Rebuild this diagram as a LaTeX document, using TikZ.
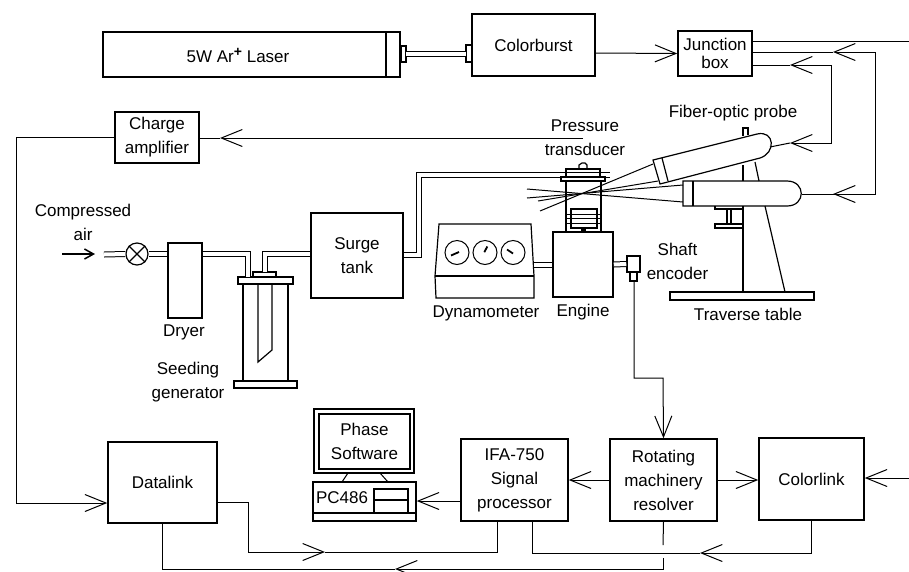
\documentclass[tikz,border=0pt]{standalone}
\usepackage{fontspec}
\setmainfont{Liberation Sans}
\usetikzlibrary{arrows.meta}
\tikzset{
  txt/.style={font=\fontsize{17}{24}\selectfont, align=center, inner sep=0pt},
  box/.style={txt, draw, line width=1.5pt, minimum width=#1},
  part/.style={draw, line width=1.2pt},
  wire/.style={line width=1pt},
  flow/.style={wire, -{Straight Barb[length=21pt,width=17pt,line width=1pt]}},
  inflow/.style={line width=1.5pt, -{Straight Barb[length=9pt,width=10pt,line width=1.5pt]}},
  pipe/.style={line width=1pt, double, double distance=4pt}
}
\begin{document}
\begin{tikzpicture}[x=1pt,y=-1pt]
\useasboundingbox (0,0) rectangle (909,571);

% top row
\node [box=297pt, minimum height=45pt] (laser) at (251.5,54.5) {};
\node [txt] at (238,55) {5W Ar\raisebox{6pt}{\fontsize{14}{14}\selectfont\textbf{+}} Laser};
\draw [part] (386,32) -- (386,77);
\node [box=123pt, minimum height=62pt] (colorburst) at (533.5,45) {Colorburst};
\node [box=74pt, minimum height=45pt] (jbox) at (715,53.5) {Junction\\[-6pt]box};
\draw [part] (401,46) rectangle (406,62);
\draw [part] (466,45) rectangle (472,62);
\draw [pipe] (406,54) -- (466,54);

% left side
\node [box=84pt, minimum height=51pt] (charge) at (157,137.5) {Charge\\amplifier};
\node [box=109pt, minimum height=81pt] (datalink) at (162.5,482.5) {Datalink};
\node [txt] at (83,222) {Compressed\\air};
\coordinate (airL) at (62,254);
\coordinate (airR) at (95,254);
\draw [inflow] (airL) -- (airR);
\node [draw, circle, line width=1.2pt, minimum size=22pt, inner sep=0pt] (valve) at (137,254) {};
\draw [part] (valve.north west) -- (valve.south east);
\draw [part] (valve.north east) -- (valve.south west);
\node [draw, line width=1.2pt, minimum width=34pt, minimum height=75pt] (dryer) at (185,280.5) {};
\node [txt] at (184,332) {Dryer};
\draw [pipe] (104,254.5) -- (valve.west);
\draw [pipe] (valve.east) -- (dryer.west |- valve.east);

% seeding generator
\draw [part] (238,277) rectangle (293,284);
\draw [part] (253,272) rectangle (276,277);
\draw [part] (243,284) -- (243,381);
\draw [part] (288,284) -- (288,381);
\draw [part] (234,381) rectangle (297,388);
\draw [part] (258,284) -- (258,362) -- (272,350) -- (272,284);
\node [txt] at (188,382) {Seeding\\generator};
\node [box=92pt, minimum height=85pt] (surge) at (357,255.5) {Surge\\tank};
\draw [pipe] (dryer.east |- 0,253.5) -| (247.5,277);
\draw [pipe] (264.5,272) |- (surge.west |- 0,253.5);
\draw [pipe] (surge.east |- 0,254.5) -| (419,175) -- (610,175);

% dynamometer
\draw [part] (439,224) -- (531,224) -- (534,276) -- (534,298) -- (436,298) -- (435,276) -- cycle;
\draw [part] (435,276) -- (534,276);
\foreach \px/\ax/\ay/\bx/\by in {457/-6/3/2/-0.5, 485/-0.7/-0.3/2.3/-6, 513/-6/-3/0/1} {
  \draw [wire] (\px,252.5) circle (12);
  \draw [line width=1.8pt] (\px+\ax,252.5+\ay) -- (\px+\bx,252.5+\by);
}
\node [txt] at (486,313) {Dynamometer};
\draw [pipe] (534,264.5) -- (553,264.5);

% engine
\node [draw, line width=1.5pt, minimum width=60pt, minimum height=65pt] (engine) at (583,264.5) {};
\node [txt] at (583,312) {Engine};
\draw [part] (566,181) -- (566,232);
\draw [part] (601,181) -- (601,232);
\draw [part] (561,177) rectangle (605,181);
\draw [part] (566,169) rectangle (600,177);
\draw [part] (579,169) -- (579,165) -- (582,163) -- (585,163) -- (587,165) -- (587,169);
\draw [part] (571,209) rectangle (597,228);
\foreach \py in {214,218,223} \draw [line width=0.5pt] (566,\py) -- (601,\py);
\fill (581,228) rectangle (586,232);
\node [txt] at (585,138) {Pressure\\transducer};

% shaft encoder
\node [draw, line width=1.5pt, minimum width=13pt, minimum height=16pt] (encoder) at (633.5,264) {};
\draw [part] (630,272) rectangle (637,281);
\coordinate (encS) at (634,281);
\draw [pipe] (engine.east) -- (encoder.west);
\node [txt] at (677.5,261) {Shaft\\encoder};

% probes
\coordinate (probeA) at (770,147);
\coordinate (probeB) at (802,194);
\draw [part] (653,160) -- (660,184) -- (760,158) .. controls (776,153) and (775,130) .. (757,134) -- cycle;
\draw [part] (662,158) -- (668,181);
\draw [part] (683,181) -- (683,206) -- (787,206) .. controls (806,206) and (806,181) .. (787,181) -- cycle;
\draw [part] (693,181) -- (693,206);
\draw [wire] (653,164) -- (540,211);
\draw [wire] (658,181) -- (538,201);
\draw [wire] (683,185) -- (527,198);
\draw [wire] (683,202) -- (527,189);

% traverse table
\draw [part] (743,165) -- (743,181);
\draw [part] (743,206) -- (743,292);
\draw [part] (755,162) -- (759,181);
\draw [part] (765,206) -- (785,292);
\draw [part] (743,136) -- (743,128) -- (748,128) -- (748,135);
\draw [part] (670,292) rectangle (814,300);
\draw [part] (715,206) -- (715,209) -- (743,209);
\draw [part] (727,209) -- (727,224);
\draw [part] (731,209) -- (731,224);
\draw [part] (715,224) rectangle (743,228);
\node [txt] at (748,314) {Traverse table};
\node [txt] at (733,113) {Fiber-optic probe};

% bottom row
\node [draw, line width=1.5pt, minimum width=100pt, minimum height=64pt] (monitor) at (364,441) {};
\node [draw, line width=2pt, align=center, txt, minimum width=91pt, minimum height=55pt] (screen) at (364.5,441.5) {Phase\\Software};
\node [draw, line width=1.5pt, minimum width=103pt, minimum height=39pt] (pc) at (364.5,501.5) {};
\draw [part] (313,513) -- (416,513);
\node [txt] at (342,498) {PC486};
\draw [part] (374,513) -- (374,489) -- (408,489) -- (408,513);
\draw [part] (374,500) -- (408,500);
\draw [wire] (348,473) -- (342,482);
\draw [wire] (380,473) -- (388,482);
\node [box=107pt, minimum height=82pt] (ifa) at (514.5,480) {IFA-750\\Signal\\processor};
\node [box=107pt, minimum height=82pt] (resolver) at (663.5,480) {Rotating\\machinery\\resolver};
\node [box=105pt, minimum height=82pt] (colorlink) at (811.5,479) {Colorlink};

% junction box wiring
\coordinate (tipA) at (833,52);
\coordinate (tipB) at (790,65);
\coordinate (tipC) at (790,143);
\coordinate (tipD) at (833,194);
\draw [wire] (jbox.east |- 0,41) -- (909,41);
\draw [flow] (colorburst.east |- 0,53) -- (jbox.west);
\draw [flow] (875,120) |- (tipA);
\draw [wire] (tipA) -- (jbox.east |- tipA);
\draw [wire] (875,120) |- (tipD);
\draw [flow] (875,194) -- (tipD);
\draw [wire] (tipD) -- (probeB);
\draw [flow] (831,100) |- (tipB);
\draw [wire] (tipB) -- (jbox.east |- tipB);
\draw [flow] (831,100) |- (tipC);
\draw [wire] (tipC) -- (probeA);

% signal wiring
\coordinate (tipE) at (220,138);
\coordinate (tipF) at (325,552);
\coordinate (tipG) at (395,569);
\coordinate (tipH) at (700,553);
\draw [flow] (583,138) -- (tipE);
\draw [wire] (tipE) -- (charge.east |- tipE);
\draw [wire] (charge.west) -| (16,300);
\draw [flow] (16,300) |- (datalink.west |- 0,503);
\draw [flow] (encS) |- (663,378) -- (resolver.north);
\draw [flow] (resolver.west) -- (ifa.east);
\draw [flow] (resolver.east) -- (colorlink.west |- resolver.east);
\draw [flow] (909,478) -- (colorlink.east |- 0,478);
\draw [flow] (ifa.west |- 0,501) -- (pc.east |- 0,501);
\draw [flow] (datalink.east |- 0,502) -| (248,552) -- (tipF);
\draw [wire] (tipF) -| (ifa.south -| 497,0);
\draw [flow] (663,558) |- (tipG);
\draw [wire] (tipG) -| (datalink.south);
\draw [wire] (resolver.south) -- (663,545);
\draw [flow] (colorlink.south) |- (tipH);
\draw [wire] (tipH) -| (ifa.south -| 532,0);
\end{tikzpicture}
\end{document}
